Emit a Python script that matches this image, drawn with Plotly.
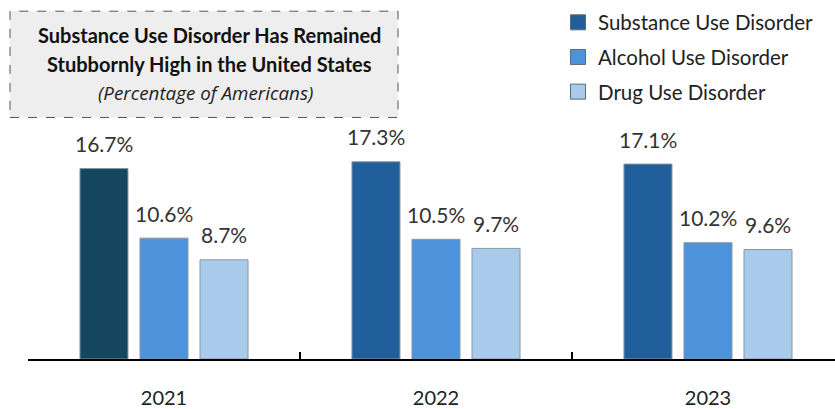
import plotly.graph_objects as go

years = ["2021", "2022", "2023"]
substance = [16.7, 17.3, 17.1]
alcohol = [10.6, 10.5, 10.2]
drug = [8.7, 9.7, 9.6]
series_names = ["Substance Use Disorder", "Alcohol Use Disorder", "Drug Use Disorder"]
title_lines = ["Substance Use Disorder Has Remained", "Stubbornly High in the United States"]
subtitle = "(Percentage of Americans)"

W, H = 835, 409
FONT = "Lato"
sub_colors = ["#14465F", "#205F9B", "#205F9B"]
colors = [sub_colors, "#4C93DB", "#A8CBEC"]
legend_colors = ["#205F9B", "#4C93DB", "#A8CBEC"]

fig = go.Figure()
for i, (name, vals) in enumerate(zip(series_names, [substance, alcohol, drug])):
    fig.add_trace(go.Bar(
        x=years, y=vals, name=name,
        marker=dict(color=colors[i], line=dict(color="#8a96a3", width=1)),
        showlegend=False,
    ))
for i, name in enumerate(series_names):
    # legend proxy (scatter so it does not take a bar slot)
    fig.add_trace(go.Scatter(
        x=[None], y=[None], name=name, mode="markers", legendgroup=f"g{i}",
        marker=dict(symbol="square", size=15, color=legend_colors[i],
                    line=dict(color="#5a6b7c", width=1)),
        showlegend=True,
    ))

# data labels
slot_offsets = [-1, 0, 1]
for i, vals in enumerate([substance, alcohol, drug]):
    for j, v in enumerate(vals):
        fig.add_annotation(
            x=j + slot_offsets[i] * 0.2206, y=v, xref="x", yref="y",
            text=f"{v:.1f}%", showarrow=False, yshift=25,
            font=dict(family=FONT, size=21, color="#333333"),
        )

# title box
fig.add_shape(type="rect", xref="paper", yref="paper",
              x0=(10 - 28) / 807, x1=(398 - 28) / 807,
              y0=(367 - 117) / 236, y1=(367 - 7) / 236,
              fillcolor="#EEEEEE", line=dict(color="#555555", width=1, dash="dash"), layer="below")
for k, t in enumerate(title_lines):
    fig.add_annotation(xref="paper", yref="paper", x=(209 - 28) / 807, y=(367 - (32 + 30 * k)) / 236,
                       xanchor="center", yanchor="middle",
                       text=f"<b>{t}</b>", showarrow=False,
                       font=dict(family=FONT, size=20, color="#111111"))
fig.add_annotation(xref="paper", yref="paper", x=(205 - 28) / 807, y=(367 - 92) / 236,
                   xanchor="center", yanchor="middle",
                   text=f"<i>{subtitle}</i>", showarrow=False,
                   font=dict(family="Open Sans", size=18.8, color="#222222"))

fig.update_layout(
    width=W, height=H,
    margin=dict(l=28, r=0, t=131, b=42),
    plot_bgcolor="white", paper_bgcolor="white",
    barmode="group", bargap=0.338, bargroupgap=0.2,
    showlegend=True,
    legend=dict(x=(558 - 28) / 807, y=(367 + 2) / 236, xanchor="left", yanchor="top",
                font=dict(family=FONT, size=20.5, color="#222222"),
                tracegroupgap=5, bgcolor="rgba(0,0,0,0)", itemclick=False),
    xaxis=dict(range=[-0.5, 2.467], showline=True, linecolor="black", linewidth=2,
               ticks="inside", tickson="boundaries", ticklen=7, tickwidth=2, tickcolor="black",
               tickfont=dict(family=FONT, size=20, color="#222222"), ticklabelstandoff=20,
               showgrid=False, fixedrange=True),
    yaxis=dict(range=[0, 20], visible=False, showgrid=False),
)
fig.write_html("out.html")
